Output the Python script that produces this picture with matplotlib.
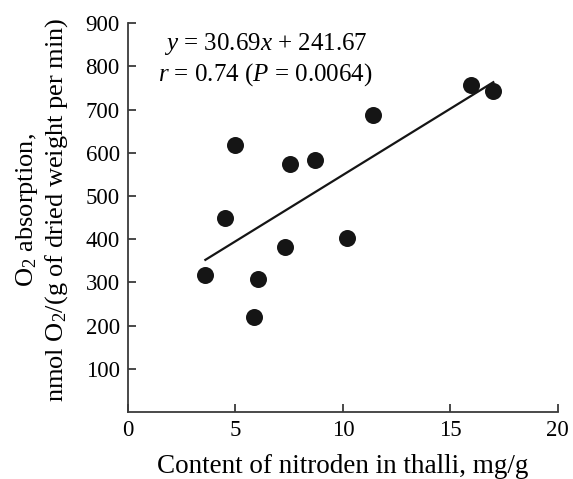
import matplotlib
matplotlib.use("Agg")
import matplotlib.pyplot as plt
import numpy as np

nitrogen = [3.6, 4.5, 5.0, 5.85, 6.03, 7.3, 7.55, 8.7, 10.2, 11.4, 15.95, 17.0]
o2_abs = [317, 450, 617, 221, 307, 381, 575, 583, 402, 687, 757, 743]
slope, intercept = 30.69, 241.67
fit_x = [3.6, 17.0]

plt.rcParams['font.family'] = ['Liberation Serif', 'DejaVu Serif']
plt.rcParams['mathtext.fontset'] = 'custom'
plt.rcParams['mathtext.rm'] = 'Liberation Serif'
plt.rcParams['mathtext.it'] = 'Liberation Serif:italic'

fig = plt.figure(figsize=(5.73, 4.79), dpi=100)
ax = fig.add_axes([0.2234, 0.1399, 0.75, 0.8117])

spine_col = '#3a3a3a'
ax.scatter(nitrogen, o2_abs, s=150, color='#151515', zorder=3, linewidths=0)
fx = np.array(fit_x)
ax.plot(fx, slope * fx + intercept, color='#151515', lw=1.6, zorder=2)

ax.set_xlim(0, 20)
ax.set_ylim(0, 900)
ax.set_xticks([0, 5, 10, 15, 20])
ax.set_yticks([100, 200, 300, 400, 500, 600, 700, 800, 900])
for s in ['top', 'right']:
    ax.spines[s].set_visible(False)
for s in ['left', 'bottom']:
    ax.spines[s].set_color(spine_col)
    ax.spines[s].set_linewidth(1.3)
ax.tick_params(direction='in', length=6, width=1.3, color=spine_col,
               labelsize=16.5, pad=6)

ax.set_xlabel('Content of nitroden in thalli, mg/g', fontsize=19.5)
ax.xaxis.set_label_coords(0.5, -0.108)
ax.set_ylabel('O$_2$ absorption,\nnmol O$_2$/(g of dried weight per min)',
              fontsize=19, linespacing=1.2, va='center')
ax.yaxis.set_label_coords(-0.2, 0.52)

ax.text(6.4, 852, '$y$ = 30.69$x$ + 241.67', fontsize=18, ha='center', va='center')
ax.text(6.4, 780, '$r$ = 0.74 ($P$ = 0.0064)', fontsize=18, ha='center', va='center')

fig.savefig('out.png', dpi=100)
